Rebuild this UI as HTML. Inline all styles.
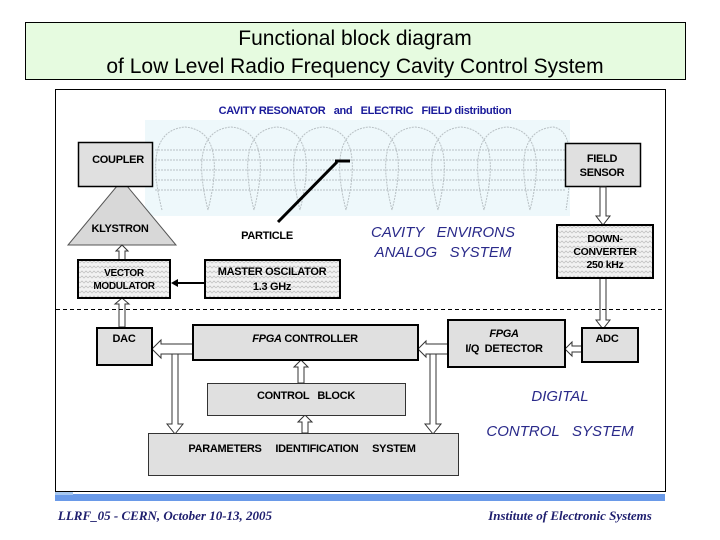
<!DOCTYPE html>
<html><head><meta charset="utf-8"><style>
body{margin:0;background:#fff}
svg{display:block}
text{font-family:"Liberation Sans",sans-serif;white-space:pre}
.b{font-weight:bold;letter-spacing:-0.3px}
</style></head><body>
<svg width="720" height="540" viewBox="0 0 720 540" xmlns="http://www.w3.org/2000/svg">
<defs>
<pattern id="zz" width="8" height="5" patternUnits="userSpaceOnUse">
<rect width="8" height="5" fill="#f2f2f2"/>
<path d="M0 3 L2 1 L4 3 L6 1 L8 3" stroke="#c4c4c4" stroke-width="0.8" fill="none"/>
</pattern>
</defs>
<rect x="25.5" y="22.5" width="660" height="57" fill="#e6fbe0" stroke="#000"/>
<text x="355" y="45" font-size="21" text-anchor="middle">Functional block diagram</text>
<text x="355" y="73" font-size="21" text-anchor="middle">of Low Level Radio Frequency Cavity Control System</text>

<rect x="55.5" y="89.5" width="610" height="402" fill="#fff" stroke="#000"/>
<rect x="145" y="120" width="425" height="96" fill="#eef8fb"/>
<g fill="none" stroke="#b8c0c4" stroke-width="1" stroke-dasharray="2 1">
<path d="M162 210 C152 170,150 130,185 127 C220 130,218 170,208 210"/>
<path d="M208 210 C198 170,196 130,231 127 C266 130,264 170,254 210"/>
<path d="M254 210 C244 170,242 130,277 127 C312 130,310 170,300 210"/>
<path d="M300 210 C290 170,288 130,323 127 C358 130,356 170,346 210"/>
<path d="M346 210 C336 170,334 130,369 127 C404 130,402 170,392 210"/>
<path d="M392 210 C382 170,380 130,415 127 C450 130,448 170,438 210"/>
<path d="M438 210 C428 170,426 130,461 127 C496 130,494 170,484 210"/>
<path d="M484 210 C474 170,472 130,507 127 C542 130,540 170,530 210"/>
<path d="M530 210 C520 170,518 130,553 127 C575 130,572 170,566 210"/>
<path d="M155 150 H565 M155 160 H565 M155 170 H565 M155 180 H565 M155 190 H565"/>
</g>
<text class="b" x="365" y="114" font-size="11" fill="#1a1a9a" text-anchor="middle">CAVITY RESONATOR   and   ELECTRIC   FIELD distribution</text>

<polygon points="68,245 176,245 122,180" fill="#d8d8d8" stroke="#555"/>
<text class="b" x="120" y="232" font-size="11" text-anchor="middle">KLYSTRON</text>
<rect x="78.5" y="142.5" width="74" height="44" fill="#e0e0e0" stroke="#000" stroke-width="1.5"/>
<text class="b" x="118" y="163" font-size="11" text-anchor="middle">COUPLER</text>
<rect x="565.5" y="143.5" width="75" height="43" fill="#e0e0e0" stroke="#000" stroke-width="1.5"/>
<text class="b" x="602" y="162" font-size="11" text-anchor="middle">FIELD</text>
<text class="b" x="602" y="176" font-size="11" text-anchor="middle">SENSOR</text>

<line x1="278" y1="222" x2="337" y2="162" stroke="#000" stroke-width="3"/>
<line x1="335" y1="161" x2="350" y2="161" stroke="#000" stroke-width="3"/>
<text class="b" x="267" y="239" font-size="11" text-anchor="middle">PARTICLE</text>
<text x="443" y="237" font-size="15" font-style="italic" fill="#2a2a8a" text-anchor="middle">CAVITY   ENVIRONS</text>
<text x="443" y="257" font-size="15" font-style="italic" fill="#2a2a8a" text-anchor="middle">ANALOG   SYSTEM</text>

<g fill="#fff" stroke="#333" stroke-width="1">
<path d="M119 260 V251 H116 L122 245 L128 251 H125 V260 Z"/>
<path d="M600 187 V216 H596 L603 225 L610 216 H606 V187 Z"/>
<path d="M600 278 V320 H596 L603 329 L610 320 H606 V278 Z"/>
<path d="M119 327 V304 H115 L122 298 L129 304 H125 V327 Z"/>
<path d="M582 346 V352 H572 V356 L565 349 L572 342 V346 Z"/>
<path d="M448 344 V354 H426 V357 L418 349 L426 341 V344 Z"/>
<path d="M193 344 V354 H161 V358 L152 349 L161 340 V344 Z"/>
<path d="M172 354 V424 H167 L175 434 L183 424 H178 V354 Z"/>
<path d="M430 354 V424 H425 L433 434 L441 424 H436 V354 Z"/>
<path d="M298 383 V367 H294 L301 360 L308 367 H304 V383 Z"/>
<path d="M302 433 V422 H298 L305 415 L312 422 H308 V433 Z"/>
</g>

<rect x="78" y="260" width="92" height="38" fill="url(#zz)" stroke="#000" stroke-width="2"/>
<text class="b" x="124" y="276" font-size="10" text-anchor="middle">VECTOR</text>
<text class="b" x="124" y="289" font-size="10" text-anchor="middle">MODULATOR</text>
<rect x="205" y="260" width="135" height="38" fill="url(#zz)" stroke="#000" stroke-width="2"/>
<text class="b" x="272" y="275" font-size="11" text-anchor="middle">MASTER OSCILATOR</text>
<text class="b" x="272" y="290" font-size="11" text-anchor="middle">1.3 GHz</text>
<line x1="205" y1="283" x2="176" y2="283" stroke="#000" stroke-width="2"/>
<polygon points="171,283 178,279 178,287" fill="#000"/>
<rect x="557" y="225" width="96" height="53" fill="url(#zz)" stroke="#000" stroke-width="2"/>
<text class="b" x="605" y="242" font-size="10.5" text-anchor="middle">DOWN-</text>
<text class="b" x="605" y="255" font-size="10.5" text-anchor="middle">CONVERTER</text>
<text class="b" x="605" y="268" font-size="10.5" text-anchor="middle">250 kHz</text>

<line x1="56" y1="309.5" x2="665" y2="309.5" stroke="#000" stroke-dasharray="4 3"/>

<rect x="97" y="328" width="55" height="37" fill="#e0e0e0" stroke="#000" stroke-width="2"/>
<text class="b" x="124" y="342" font-size="11" text-anchor="middle">DAC</text>
<rect x="193" y="325" width="225" height="35" fill="#e0e0e0" stroke="#000" stroke-width="2"/>
<text class="b" x="305" y="342" font-size="11" text-anchor="middle"><tspan font-style="italic">FPGA</tspan> CONTROLLER</text>
<rect x="448" y="320" width="117" height="47" fill="#e0e0e0" stroke="#000" stroke-width="2"/>
<text class="b" x="504" y="337" font-size="11" font-style="italic" text-anchor="middle">FPGA</text>
<text class="b" x="504" y="352" font-size="11" text-anchor="middle">I/Q  DETECTOR</text>
<rect x="582" y="328" width="56" height="34" fill="#e0e0e0" stroke="#000" stroke-width="2"/>
<text class="b" x="607" y="342" font-size="11" text-anchor="middle">ADC</text>
<rect x="207.5" y="383.5" width="198" height="32" fill="#e0e0e0" stroke="#333"/>
<text class="b" x="306" y="399" font-size="11" text-anchor="middle">CONTROL   BLOCK</text>
<rect x="148.5" y="433.5" width="310" height="42" fill="#e0e0e0" stroke="#333"/>
<text class="b" x="302" y="452" font-size="11" text-anchor="middle">PARAMETERS     IDENTIFICATION     SYSTEM</text>
<text x="560" y="401" font-size="15" font-style="italic" fill="#2a2a8a" text-anchor="middle">DIGITAL</text>
<text x="560" y="436" font-size="15" font-style="italic" fill="#2a2a8a" text-anchor="middle">CONTROL   SYSTEM</text>

<rect x="55" y="494" width="610" height="7" fill="#6a9ae8"/>
<rect x="55" y="492" width="18" height="3" fill="#a8c8f0"/>
<text x="165" y="520" font-size="13" font-style="italic" font-weight="bold" fill="#1e1e6e" text-anchor="middle" style="font-family:'Liberation Serif',serif">LLRF_05 - CERN, October 10-13, 2005</text>
<text x="570" y="520" font-size="13" font-style="italic" font-weight="bold" fill="#1e1e6e" text-anchor="middle" style="font-family:'Liberation Serif',serif">Institute of Electronic Systems</text>
</svg>
</body></html>
